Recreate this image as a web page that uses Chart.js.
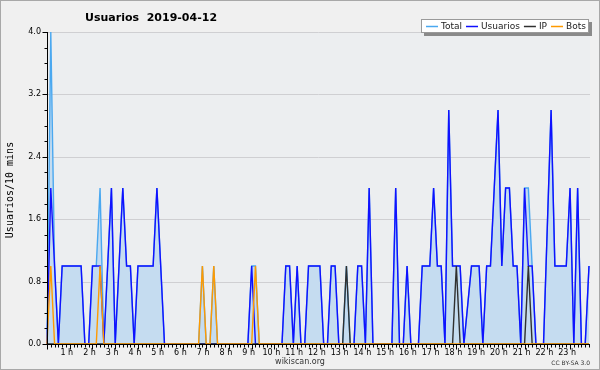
<!DOCTYPE html>
<html>
<head>
<meta charset="utf-8">
<script src="https://cdn.jsdelivr.net/npm/chart.js@4/dist/chart.umd.min.js"></script>
<style>
  html, body { margin: 0; padding: 0; background: #f0f0f0; }
  canvas { display: block; }
</style>
</head>
<body>
<canvas id="chart" width="600" height="370"></canvas>
<script>
// Usuarios 2019-04-12 -- editors per 10 minute slot (wikiscan style)

// one category per 10 minutes, 00:00 .. 23:50
const slots = [];
for (let h = 0; h < 24; h++) {
  for (let m = 0; m < 60; m += 10) {
    slots.push(String(h).padStart(2, '0') + ':' + String(m).padStart(2, '0'));
  }
}

const total = [
  0, 4, 1, 0, 1, 1, 1, 1, 1, 1, 0, 0, 1, 1, 2, 0, 1, 2, 0, 1, 2, 1, 1, 0,
  1, 1, 1, 1, 1, 2, 1, 0, 0, 0, 0, 0, 0, 0, 0, 0, 0, 1, 0, 0, 1, 0, 0, 0,
  0, 0, 0, 0, 0, 0, 1, 1, 0, 0, 0, 0, 0, 0, 0, 1, 1, 0, 1, 0, 0, 1, 1, 1,
  1, 0, 0, 1, 1, 0, 0, 1, 0, 0, 1, 1, 0, 2, 0, 0, 0, 0, 0, 0, 2, 0, 0, 1,
  0, 0, 0, 1, 1, 1, 2, 1, 1, 0, 3, 1, 1, 1, 0, 0.5, 1, 1, 1, 0, 1, 1, 2, 3,
  1, 2, 2, 1, 1, 0, 2, 2, 1, 0, 0, 0, 1.5, 3, 1, 1, 1, 1, 2, 0, 2, 0, 0, 1
];
const usuarios = [
  0, 2, 1, 0, 1, 1, 1, 1, 1, 1, 0, 0, 1, 1, 1, 0, 1, 2, 0, 1, 2, 1, 1, 0,
  1, 1, 1, 1, 1, 2, 1, 0, 0, 0, 0, 0, 0, 0, 0, 0, 0, 0, 0, 0, 0, 0, 0, 0,
  0, 0, 0, 0, 0, 0, 1, 0, 0, 0, 0, 0, 0, 0, 0, 1, 1, 0, 1, 0, 0, 1, 1, 1,
  1, 0, 0, 1, 1, 0, 0, 0, 0, 0, 1, 1, 0, 2, 0, 0, 0, 0, 0, 0, 2, 0, 0, 1,
  0, 0, 0, 1, 1, 1, 2, 1, 1, 0, 3, 1, 1, 1, 0, 0.5, 1, 1, 1, 0, 1, 1, 2, 3,
  1, 2, 2, 1, 1, 0, 2, 1, 1, 0, 0, 0, 1.5, 3, 1, 1, 1, 1, 2, 0, 2, 0, 0, 1
];
const ip = [
  0, 0, 0, 0, 0, 0, 0, 0, 0, 0, 0, 0, 0, 0, 0, 0, 0, 0, 0, 0, 0, 0, 0, 0,
  0, 0, 0, 0, 0, 0, 0, 0, 0, 0, 0, 0, 0, 0, 0, 0, 0, 0, 0, 0, 0, 0, 0, 0,
  0, 0, 0, 0, 0, 0, 0, 0, 0, 0, 0, 0, 0, 0, 0, 0, 0, 0, 0, 0, 0, 0, 0, 0,
  0, 0, 0, 0, 0, 0, 0, 1, 0, 0, 0, 0, 0, 0, 0, 0, 0, 0, 0, 0, 0, 0, 0, 0,
  0, 0, 0, 0, 0, 0, 0, 0, 0, 0, 0, 0, 1, 0, 0, 0, 0, 0, 0, 0, 0, 0, 0, 0,
  0, 0, 0, 0, 0, 0, 0, 1, 0, 0, 0, 0, 0, 0, 0, 0, 0, 0, 0, 0, 0, 0, 0, 0
];
const bots = [
  0, 1, 0, 0, 0, 0, 0, 0, 0, 0, 0, 0, 0, 0, 1, 0, 0, 0, 0, 0, 0, 0, 0, 0,
  0, 0, 0, 0, 0, 0, 0, 0, 0, 0, 0, 0, 0, 0, 0, 0, 0, 1, 0, 0, 1, 0, 0, 0,
  0, 0, 0, 0, 0, 0, 0, 1, 0, 0, 0, 0, 0, 0, 0, 0, 0, 0, 0, 0, 0, 0, 0, 0,
  0, 0, 0, 0, 0, 0, 0, 0, 0, 0, 0, 0, 0, 0, 0, 0, 0, 0, 0, 0, 0, 0, 0, 0,
  0, 0, 0, 0, 0, 0, 0, 0, 0, 0, 0, 0, 0, 0, 0, 0, 0, 0, 0, 0, 0, 0, 0, 0,
  0, 0, 0, 0, 0, 0, 0, 0, 0, 0, 0, 0, 0, 0, 0, 0, 0, 0, 0, 0, 0, 0, 0, 0
];

const yTicks = [0, 0.8, 1.6, 2.4, 3.2, 4.0];
const yTickLabels = ['0.0', '0.8', '1.6', '2.4', '3.2', '4.0'];
const hourLabels = ['1 h', '2 h', '3 h', '4 h', '5 h', '6 h', '7 h', '8 h', '9 h', '10 h', '11 h', '12 h',
  '13 h', '14 h', '15 h', '16 h', '17 h', '18 h', '19 h', '20 h', '21 h', '22 h', '23 h'];

const colors = {
  total: '#4aa8f0',
  fill: '#c5dcf0',
  usuarios: '#1010ff',
  ip: '#303030',
  bots: '#ff9a00'
};

const legendItems = [
  { text: 'Total', color: colors.total },
  { text: 'Usuarios', color: colors.usuarios },
  { text: 'IP', color: colors.ip },
  { text: 'Bots', color: colors.bots }
];

// everything around the plot is painted by hand, wikiscan style
const decor = {
  id: 'decor',
  beforeDraw(chart) {
    const { ctx, chartArea: a, scales } = chart;
    ctx.save();
    ctx.fillStyle = '#f0f0f0';
    ctx.fillRect(0, 0, chart.width, chart.height);
    ctx.strokeStyle = '#a8a8a8';
    ctx.lineWidth = 1;
    ctx.strokeRect(0.5, 0.5, chart.width - 1, chart.height - 1);

    ctx.fillStyle = '#eceef0';
    ctx.fillRect(a.left, a.top, a.right - a.left + 1, a.bottom - a.top);

    ctx.strokeStyle = '#cfcfd2';
    yTicks.forEach(v => {
      if (v === 0) return;
      const y = Math.round(scales.y.getPixelForValue(v)) + 0.5;
      ctx.beginPath();
      ctx.moveTo(a.left, y);
      ctx.lineTo(a.right + 1, y);
      ctx.stroke();
    });
    ctx.restore();
  },
  afterDraw(chart) {
    const { ctx, chartArea: a, scales } = chart;
    const x0 = Math.round(a.left) + 0.5;
    const yb = Math.round(a.bottom) + 0.5;
    ctx.save();
    ctx.strokeStyle = '#000';
    ctx.lineWidth = 1;

    // axes
    ctx.beginPath();
    ctx.moveTo(x0, a.top);
    ctx.lineTo(x0, yb);
    ctx.lineTo(a.right + 1, yb);
    ctx.stroke();

    // y ticks, minor every 0.2
    ctx.beginPath();
    for (let k = 0; k <= 20; k++) {
      const y = Math.round(scales.y.getPixelForValue(k * 0.2)) + 0.5;
      const len = k % 4 === 0 ? 5 : 3;
      ctx.moveTo(x0 - len, y);
      ctx.lineTo(x0, y);
    }
    ctx.stroke();

    ctx.fillStyle = '#000';
    ctx.font = '8px "DejaVu Sans"';
    ctx.textAlign = 'right';
    ctx.textBaseline = 'middle';
    yTicks.forEach((v, i) => {
      ctx.fillText(yTickLabels[i], a.left - 6, scales.y.getPixelForValue(v));
    });

    // x ticks, one per slot
    ctx.beginPath();
    slots.forEach((s, i) => {
      const x = Math.round(scales.x.getPixelForValue(i)) + 0.5;
      const len = i % 6 === 0 ? 5 : 3;
      ctx.moveTo(x, yb);
      ctx.lineTo(x, yb + len);
    });
    ctx.stroke();

    ctx.textAlign = 'center';
    ctx.textBaseline = 'middle';
    hourLabels.forEach((t, i) => {
      const x = scales.x.getPixelForValue((i + 1) * 6);
      ctx.fillText(t, x - 3, a.bottom + 9);
    });

    // y title
    ctx.save();
    ctx.translate(10, 190);
    ctx.rotate(-Math.PI / 2);
    ctx.font = '10px "DejaVu Sans Mono"';
    ctx.fillText('Usuarios/10 mins', 0, 0);
    ctx.restore();

    // title
    ctx.font = 'bold 11px "DejaVu Sans"';
    ctx.textAlign = 'left';
    ctx.fillText('Usuarios  2019-04-12', 85, 18);

    // footer
    ctx.font = '8px "DejaVu Sans"';
    ctx.textAlign = 'center';
    ctx.fillStyle = '#333';
    ctx.fillText('wikiscan.org', 300, 362);
    ctx.font = '6px "DejaVu Sans"';
    ctx.textAlign = 'right';
    ctx.fillText('CC BY-SA 3.0', 590, 363);

    // legend box with shadow
    const bx = 421, by = 19, bw = 168, bh = 14;
    ctx.fillStyle = '#8a8a8a';
    ctx.fillRect(bx + 3, by + 3, bw, bh);
    ctx.fillStyle = '#fff';
    ctx.fillRect(bx, by, bw, bh);
    ctx.strokeStyle = '#9a9a9a';
    ctx.strokeRect(bx + 0.5, by + 0.5, bw - 1, bh - 1);

    ctx.font = '9px "DejaVu Sans"';
    ctx.textAlign = 'left';
    ctx.textBaseline = 'middle';
    let lx = bx + 5;
    const ly = by + bh / 2 + 0.5;
    legendItems.forEach(it => {
      ctx.strokeStyle = it.color;
      ctx.lineWidth = 1.5;
      ctx.beginPath();
      ctx.moveTo(lx, ly);
      ctx.lineTo(lx + 12, ly);
      ctx.stroke();
      ctx.fillStyle = '#222';
      ctx.fillText(it.text, lx + 15, ly);
      lx += 15 + ctx.measureText(it.text).width + 4;
    });
    ctx.restore();
  }
};

function lineSet(label, data, color, order, extra) {
  return Object.assign({
    label: label,
    data: data,
    borderColor: color,
    borderWidth: 1.4,
    pointRadius: 0,
    tension: 0,
    fill: false,
    order: order,
    clip: 3
  }, extra || {});
}

new Chart(document.getElementById('chart'), {
  type: 'line',
  data: {
    labels: slots,
    datasets: [
      lineSet('Total', total, colors.total, 3, { fill: 'origin', backgroundColor: colors.fill }),
      lineSet('Usuarios', usuarios, colors.usuarios, 2),
      lineSet('IP', ip, colors.ip, 1),
      lineSet('Bots', bots, colors.bots, 0)
    ]
  },
  options: {
    responsive: false,
    animation: false,
    devicePixelRatio: 1,
    layout: { padding: { left: 47, top: 32, right: 11, bottom: 26 } },
    plugins: {
      legend: { display: false },
      tooltip: { enabled: false },
      title: { display: false }
    },
    scales: {
      x: { type: 'category', display: false, offset: false },
      y: { type: 'linear', display: false, min: 0, max: 4 }
    }
  },
  plugins: [decor]
});
</script>
</body>
</html>
